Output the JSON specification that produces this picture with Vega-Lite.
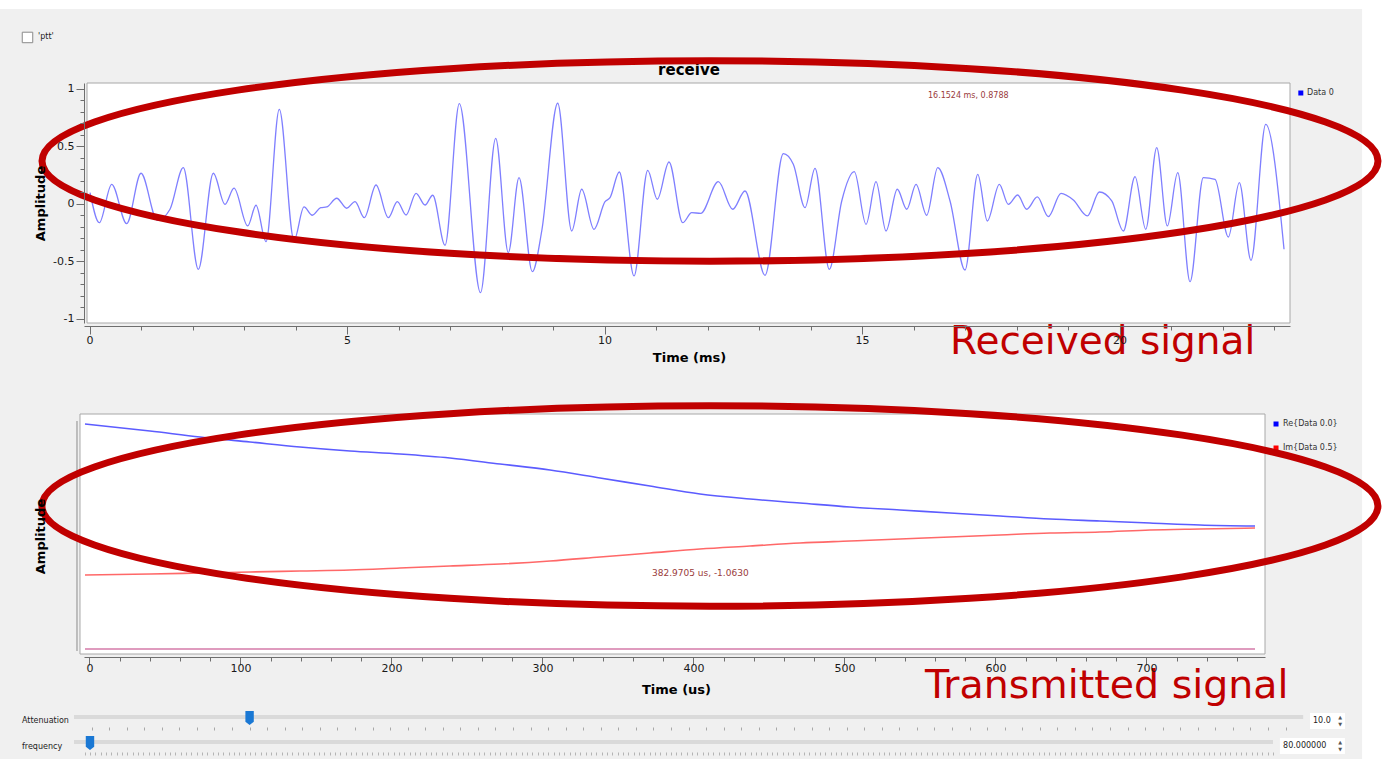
{
 "$schema": "https://vega.github.io/schema/vega-lite/v6.json",
 "background": "white",
 "padding": {"left": 0, "top": 8, "right": 0, "bottom": 0},
 "autosize": {"type": "pad"},
 "config": {
  "view": {"stroke": null},
  "axis": {"grid": false, "labelFont": "DejaVu Sans", "labelFontSize": 11, "labelColor": "#1a1a1a", "titleFont": "DejaVu Sans", "titleFontWeight": "bold", "titleFontSize": 13, "titleColor": "#000000", "domainColor": "#6e6e6e", "tickColor": "#6e6e6e", "labelOverlap": false, "labelFlush": false},
  "text": {"font": "DejaVu Sans"}
 },
 "datasets": {
  "rx": [
   {"t":0.01,"a":0.098},{"t":0.190,"a":-0.163},{"t":0.431,"a":0.171},{"t":0.722,"a":-0.171},{"t":1.000,"a":0.267},{"t":1.317,"a":-0.142},{"t":1.563,"a":-0.046},{"t":1.821,"a":0.316},{"t":2.113,"a":-0.568},{"t":2.404,"a":0.267},{"t":2.631,"a":-0.003},{"t":2.806,"a":0.137},{"t":3.072,"a":-0.191},{"t":3.233,"a":-0.011},{"t":3.427,"a":-0.328},{"t":3.685,"a":0.823},{"t":3.971,"a":-0.316},{"t":4.165,"a":-0.026},{"t":4.326,"a":-0.098},{"t":4.489,"a":-0.032},{"t":4.606,"a":-0.026},{"t":4.800,"a":0.050},{"t":4.994,"a":-0.037},{"t":5.155,"a":0.020},{"t":5.336,"a":-0.119},{"t":5.563,"a":0.165},{"t":5.802,"a":-0.119},{"t":5.977,"a":0.020},{"t":6.146,"a":-0.096},{"t":6.340,"a":0.093},{"t":6.515,"a":-0.009},{"t":6.664,"a":0.076},{"t":6.903,"a":-0.359},{"t":7.181,"a":0.872},{"t":7.592,"a":-0.771},{"t":7.887,"a":0.571},{"t":8.132,"a":-0.423},{"t":8.340,"a":0.229},{"t":8.598,"a":-0.589},{"t":8.781,"a":-0.235},{"t":9.091,"a":0.876},{"t":9.363,"a":-0.235},{"t":9.557,"a":0.128},{"t":9.796,"a":-0.220},{"t":10.010,"a":0.020},{"t":10.107,"a":0.055},{"t":10.287,"a":0.278},{"t":10.573,"a":-0.626},{"t":10.839,"a":0.293},{"t":11.025,"a":0.041},{"t":11.252,"a":0.365},{"t":11.518,"a":-0.163},{"t":11.693,"a":-0.076},{"t":11.868,"a":-0.081},{"t":12.210,"a":0.194},{"t":12.489,"a":-0.046},{"t":12.728,"a":0.113},{"t":13.117,"a":-0.620},{"t":13.472,"a":0.437},{"t":13.666,"a":0.345},{"t":13.893,"a":-0.032},{"t":14.087,"a":0.310},{"t":14.365,"a":-0.568},{"t":14.606,"a":0.026},{"t":14.850,"a":0.281},{"t":15.078,"a":-0.177},{"t":15.272,"a":0.194},{"t":15.466,"a":-0.235},{"t":15.685,"a":0.128},{"t":15.868,"a":-0.046},{"t":16.049,"a":0.171},{"t":16.256,"a":-0.098},{"t":16.470,"a":0.316},{"t":16.709,"a":0.026},{"t":17.000,"a":-0.574},{"t":17.247,"a":0.258},{"t":17.433,"a":-0.148},{"t":17.666,"a":0.171},{"t":17.841,"a":-0.003},{"t":18.023,"a":0.078},{"t":18.198,"a":-0.046},{"t":18.404,"a":0.061},{"t":18.617,"a":-0.110},{"t":18.864,"a":0.093},{"t":19.103,"a":0.035},{"t":19.375,"a":-0.104},{"t":19.608,"a":0.104},{"t":19.849,"a":0.026},{"t":20.074,"a":-0.235},{"t":20.301,"a":0.237},{"t":20.509,"a":-0.220},{"t":20.722,"a":0.490},{"t":20.928,"a":-0.191},{"t":21.130,"a":0.272},{"t":21.369,"a":-0.676},{"t":21.627,"a":0.229},{"t":21.854,"a":0.215},{"t":22.113,"a":-0.287},{"t":22.326,"a":0.185},{"t":22.553,"a":-0.490},{"t":22.839,"a":0.693},{"t":23.194,"a":-0.394}
  ],
  "tx": [
   {"s":"Z","t":-2.98,"v":-1.95},{"s":"Z","t":771.9,"v":-1.95},
   {"s":"Im","t":-2.98,"v":-1.21},{"s":"Im","t":40.07,"v":-1.20},{"s":"Im","t":73.18,"v":-1.19},{"s":"Im","t":106.3,"v":-1.18},{"s":"Im","t":139.4,"v":-1.17},{"s":"Im","t":172.5,"v":-1.16},{"s":"Im","t":205.6,"v":-1.14},{"s":"Im","t":238.7,"v":-1.12},{"s":"Im","t":271.9,"v":-1.10},{"s":"Im","t":305.0,"v":-1.07},{"s":"Im","t":338.1,"v":-1.03},{"s":"Im","t":371.2,"v":-0.99},{"s":"Im","t":404.3,"v":-0.95},{"s":"Im","t":437.4,"v":-0.92},{"s":"Im","t":470.5,"v":-0.89},{"s":"Im","t":503.6,"v":-0.87},{"s":"Im","t":536.8,"v":-0.85},{"s":"Im","t":569.9,"v":-0.83},{"s":"Im","t":603.0,"v":-0.81},{"s":"Im","t":636.1,"v":-0.79},{"s":"Im","t":669.2,"v":-0.78},{"s":"Im","t":702.3,"v":-0.76},{"s":"Im","t":735.4,"v":-0.75},{"s":"Im","t":771.9,"v":-0.74},
   {"s":"Re","t":-2.98,"v":0.30},{"s":"Re","t":40.07,"v":0.23},{"s":"Re","t":73.18,"v":0.17},{"s":"Re","t":106.3,"v":0.12},{"s":"Re","t":139.4,"v":0.07},{"s":"Re","t":172.5,"v":0.03},{"s":"Re","t":205.6,"v":0.00},{"s":"Re","t":238.7,"v":-0.04},{"s":"Re","t":271.9,"v":-0.10},{"s":"Re","t":305.0,"v":-0.16},{"s":"Re","t":338.1,"v":-0.24},{"s":"Re","t":371.2,"v":-0.32},{"s":"Re","t":404.3,"v":-0.40},{"s":"Re","t":437.4,"v":-0.45},{"s":"Re","t":470.5,"v":-0.49},{"s":"Re","t":503.6,"v":-0.53},{"s":"Re","t":536.8,"v":-0.56},{"s":"Re","t":569.9,"v":-0.59},{"s":"Re","t":603.0,"v":-0.62},{"s":"Re","t":636.1,"v":-0.65},{"s":"Re","t":669.2,"v":-0.67},{"s":"Re","t":702.3,"v":-0.69},{"s":"Re","t":735.4,"v":-0.71},{"s":"Re","t":771.9,"v":-0.72}
  ],
  "sl1": [{"name":"Attenuation","lo":0,"hi":70,"v":10,"txt":"10.0"}],
  "sl2": [{"name":"frequency","lo":77,"hi":302,"v":80,"txt":"80.000000"}]
 },
 "spacing": 11,
 "bounds": "flush",
 "vconcat": [
    {
     "width": 1206, "height": 240,
     "layer": [
      {"data": {"values": [{}]}, "mark": {"type": "rect", "color": "#f0f0f0"},
       "encoding": {"x": {"datum": -1.738, "type": "quantitative", "scale": {"domain": [-0.107, 23.31], "nice": false, "zero": false}}, "x2": {"datum": 24.71}, "y": {"datum": 1.696, "type": "quantitative", "scale": {"domain": [-1.035, 1.052], "nice": false, "zero": false}}, "y2": {"datum": -4.835}}},
      {"data": {"values": [{}]}, "mark": {"type": "point", "shape": "square", "size": 110, "filled": true, "fill": "white", "stroke": "#8a8a8a", "strokeWidth": 1, "opacity": 1},
       "encoding": {"x": {"datum": -1.204, "type": "quantitative", "scale": {"domain": [-0.107, 23.31], "nice": false, "zero": false}}, "y": {"datum": 1.448, "type": "quantitative", "scale": {"domain": [-1.035, 1.052], "nice": false, "zero": false}}}},
      {"data": {"values": [{}]}, "mark": {"type": "text", "text": "'ptt'", "fontSize": 8, "align": "left", "baseline": "middle", "color": "#222222"},
       "encoding": {"x": {"datum": -1.0, "type": "quantitative", "scale": {"domain": [-0.107, 23.31], "nice": false, "zero": false}}, "y": {"datum": 1.448, "type": "quantitative", "scale": {"domain": [-1.035, 1.052], "nice": false, "zero": false}}}},
      {"data": {"values": [{}]}, "mark": {"type": "text", "text": "receive", "fontSize": 15, "fontWeight": "bold", "align": "center", "baseline": "middle", "color": "#000000"},
       "encoding": {"x": {"datum": 11.64, "type": "quantitative", "scale": {"domain": [-0.107, 23.31], "nice": false, "zero": false}}, "y": {"datum": 1.165, "type": "quantitative", "scale": {"domain": [-1.035, 1.052], "nice": false, "zero": false}}}},
      {"data": {"values": [{}]}, "mark": {"type": "rect", "fill": "white", "stroke": "#a8a8a8", "strokeWidth": 1},
       "encoding": {"x": {"datum": -0.0485, "type": "quantitative", "scale": {"domain": [-0.107, 23.31], "nice": false, "zero": false}}, "x2": {"datum": 23.31}, "y": {"datum": 1.052, "type": "quantitative", "scale": {"domain": [-1.035, 1.052], "nice": false, "zero": false}}, "y2": {"datum": -1.035}}},
      {"data": {"name": "rx"}, "mark": {"type": "line", "color": "#7f7fff", "strokeWidth": 1.3, "interpolate": "monotone"},
       "encoding": {
        "x": {"field": "t", "type": "quantitative", "scale": {"domain": [-0.107, 23.31], "nice": false, "zero": false},
              "axis": {"zindex": 1, "orient": "bottom", "offset": 3, "tickCount": 100, "labelOverlap": false, "values": [0,1,2,3,4,5,6,7,8,9,10,11,12,13,14,15,16,17,18,19,20,21,22,23], "labelExpr": "datum.value % 5 === 0 ? '' + datum.value : ''", "tickSize": {"condition": {"test": "datum.value % 5 === 0", "value": 8}, "value": 4}, "labelPadding": 0, "title": "Time (ms)", "titleX": 605, "titleY": 31, "titleAlign": "center", "titleBaseline": "middle"}},
        "y": {"field": "a", "type": "quantitative", "scale": {"domain": [-1.035, 1.052], "nice": false, "zero": false},
              "axis": {"zindex": 1, "orient": "left", "offset": 0, "tickCount": 100, "labelOverlap": false, "values": [-1,-0.9,-0.8,-0.7,-0.6,-0.5,-0.4,-0.3,-0.2,-0.1,0,0.1,0.2,0.3,0.4,0.5,0.6,0.7,0.8,0.9,1], "labelExpr": "abs(datum.value*2-round(datum.value*2))<0.001 ? '' + datum.value : ''", "tickSize": {"condition": {"test": "abs(datum.value*2-round(datum.value*2))<0.001", "value": 8}, "value": 4}, "labelPadding": 2, "title": "Amplitude", "titleX": -44, "titleY": 120, "titleAngle": -90, "titleAlign": "center", "titleBaseline": "middle"}}
       }},
      {"data": {"values": [{}]}, "mark": {"type": "point", "shape": "square", "size": 25, "filled": true, "color": "#0000ff", "opacity": 1},
       "encoding": {"x": {"datum": 23.52, "type": "quantitative", "scale": {"domain": [-0.107, 23.31], "nice": false, "zero": false}}, "y": {"datum": 0.965, "type": "quantitative", "scale": {"domain": [-1.035, 1.052], "nice": false, "zero": false}}}},
      {"data": {"values": [{}]}, "mark": {"type": "text", "text": "Data 0", "fontSize": 8, "align": "left", "baseline": "middle", "color": "#333333"},
       "encoding": {"x": {"datum": 23.64, "type": "quantitative", "scale": {"domain": [-0.107, 23.31], "nice": false, "zero": false}}, "y": {"datum": 0.965, "type": "quantitative", "scale": {"domain": [-1.035, 1.052], "nice": false, "zero": false}}}},
      {"data": {"values": [{}]}, "mark": {"type": "text", "text": "16.1524 ms, 0.8788", "fontSize": 8, "align": "left", "baseline": "middle", "color": "#9a3b3b"},
       "encoding": {"x": {"datum": 16.28, "type": "quantitative", "scale": {"domain": [-0.107, 23.31], "nice": false, "zero": false}}, "y": {"datum": 0.939, "type": "quantitative", "scale": {"domain": [-1.035, 1.052], "nice": false, "zero": false}}}},
      {"data": {"values": [{}]}, "mark": {"type": "point", "shape": "M-1,0C-1,-0.0828,-0.5523,-0.15,0,-0.15C0.5523,-0.15,1,-0.0828,1,0C1,0.0828,0.5523,0.15,0,0.15C-0.5523,0.15,-1,0.0828,-1,0Z", "size": 1784896, "filled": false, "color": "#c00000", "strokeWidth": 7, "opacity": 1},
       "encoding": {"x": {"datum": 12.048, "type": "quantitative", "scale": {"domain": [-0.107, 23.31], "nice": false, "zero": false}}, "y": {"datum": 0.374, "type": "quantitative", "scale": {"domain": [-1.035, 1.052], "nice": false, "zero": false}}}},
      {"data": {"values": [{}]}, "mark": {"type": "text", "text": "Received signal", "font": "DejaVu Sans", "fontSize": 39, "align": "left", "baseline": "alphabetic", "color": "#c00000"},
       "encoding": {"x": {"datum": 16.709, "type": "quantitative", "scale": {"domain": [-0.107, 23.31], "nice": false, "zero": false}}, "y": {"datum": -1.304, "type": "quantitative", "scale": {"domain": [-1.035, 1.052], "nice": false, "zero": false}}}}
     ]
    },
    {
     "width": 1181, "height": 320,
     "layer": [
      {"data": {"values": [{}]}, "mark": {"type": "rect", "fill": "white", "stroke": "#a8a8a8", "strokeWidth": 1},
       "encoding": {"x": {"datum": -6.29, "type": "quantitative", "scale": {"domain": [-3.64, 778.5], "nice": false, "zero": false}}, "x2": {"datum": 778.5}, "y": {"datum": 0.4, "type": "quantitative", "scale": {"domain": [-2.0, 1.2], "nice": false, "zero": false}}, "y2": {"datum": -2.0}}},
      {"data": {"values": [{}]}, "mark": {"type": "rule", "color": "#8a8a8a", "strokeWidth": 1},
       "encoding": {"x": {"datum": -8.28, "type": "quantitative", "scale": {"domain": [-3.64, 778.5], "nice": false, "zero": false}}, "y": {"datum": 0.33, "type": "quantitative", "scale": {"domain": [-2.0, 1.2], "nice": false, "zero": false}}, "y2": {"datum": -1.97}}},
      {"data": {"name": "tx"}, "mark": {"type": "line", "strokeWidth": 1.6, "interpolate": "monotone"},
       "encoding": {
        "x": {"field": "t", "type": "quantitative", "scale": {"domain": [-3.64, 778.5], "nice": false, "zero": false},
              "axis": {"zindex": 1, "orient": "bottom", "offset": 3, "tickCount": 100, "labelOverlap": false, "values": [0,20,40,60,80,100,120,140,160,180,200,220,240,260,280,300,320,340,360,380,400,420,440,460,480,500,520,540,560,580,600,620,640,660,680,700,720,740,760], "labelExpr": "datum.value % 100 === 0 ? '' + datum.value : ''", "tickSize": {"condition": {"test": "datum.value % 100 === 0", "value": 8}, "value": 4}, "labelPadding": -3, "title": "Time (us)", "titleX": 592, "titleY": 32, "titleAlign": "center", "titleBaseline": "middle"}},
        "y": {"field": "v", "type": "quantitative", "scale": {"domain": [-2.0, 1.2], "nice": false, "zero": false},
              "axis": {"zindex": 1, "orient": "left", "offset": 6, "labels": false, "ticks": false, "domain": false, "title": "Amplitude", "titleX": -38, "titleY": 202, "titleAngle": -90, "titleAlign": "center", "titleBaseline": "middle"}},
        "color": {"field": "s", "type": "nominal", "scale": {"domain": ["Re", "Im", "Z"], "range": ["#5c5cff", "#ff6868", "#d47aa8"]}, "legend": null}
       }},
      {"data": {"values": [{}]}, "mark": {"type": "point", "shape": "square", "size": 25, "filled": true, "color": "#0000ff", "opacity": 1},
       "encoding": {"x": {"datum": 785.8, "type": "quantitative", "scale": {"domain": [-3.64, 778.5], "nice": false, "zero": false}}, "y": {"datum": 0.30, "type": "quantitative", "scale": {"domain": [-2.0, 1.2], "nice": false, "zero": false}}}},
      {"data": {"values": [{}]}, "mark": {"type": "text", "text": "Re{Data 0.0}", "fontSize": 8, "align": "left", "baseline": "middle", "color": "#333333"},
       "encoding": {"x": {"datum": 790.4, "type": "quantitative", "scale": {"domain": [-3.64, 778.5], "nice": false, "zero": false}}, "y": {"datum": 0.30, "type": "quantitative", "scale": {"domain": [-2.0, 1.2], "nice": false, "zero": false}}}},
      {"data": {"values": [{}]}, "mark": {"type": "point", "shape": "square", "size": 25, "filled": true, "color": "#ff0000", "opacity": 1},
       "encoding": {"x": {"datum": 785.8, "type": "quantitative", "scale": {"domain": [-3.64, 778.5], "nice": false, "zero": false}}, "y": {"datum": 0.06, "type": "quantitative", "scale": {"domain": [-2.0, 1.2], "nice": false, "zero": false}}}},
      {"data": {"values": [{}]}, "mark": {"type": "text", "text": "Im{Data 0.5}", "fontSize": 8, "align": "left", "baseline": "middle", "color": "#333333"},
       "encoding": {"x": {"datum": 790.4, "type": "quantitative", "scale": {"domain": [-3.64, 778.5], "nice": false, "zero": false}}, "y": {"datum": 0.06, "type": "quantitative", "scale": {"domain": [-2.0, 1.2], "nice": false, "zero": false}}}},
      {"data": {"values": [{}]}, "mark": {"type": "text", "text": "382.9705 us, -1.0630", "fontSize": 9, "align": "left", "baseline": "middle", "color": "#9a3b3b"},
       "encoding": {"x": {"datum": 372.5, "type": "quantitative", "scale": {"domain": [-3.64, 778.5], "nice": false, "zero": false}}, "y": {"datum": -1.19, "type": "quantitative", "scale": {"domain": [-2.0, 1.2], "nice": false, "zero": false}}}},
      {"data": {"values": [{}]}, "mark": {"type": "point", "shape": "M-1,0C-1,-0.0828,-0.5523,-0.15,0,-0.15C0.5523,-0.15,1,-0.0828,1,0C1,0.0828,0.5523,0.15,0,0.15C-0.5523,0.15,-1,0.0828,-1,0Z", "size": 1784896, "filled": false, "color": "#c00000", "strokeWidth": 7, "opacity": 1},
       "encoding": {"x": {"datum": 410.9, "type": "quantitative", "scale": {"domain": [-3.64, 778.5], "nice": false, "zero": false}}, "y": {"datum": -0.52, "type": "quantitative", "scale": {"domain": [-2.0, 1.2], "nice": false, "zero": false}}}},
      {"data": {"values": [{}]}, "mark": {"type": "text", "text": "Transmitted signal", "font": "DejaVu Sans", "fontSize": 39.5, "align": "left", "baseline": "alphabetic", "color": "#c00000"},
       "encoding": {"x": {"datum": 553.3, "type": "quantitative", "scale": {"domain": [-3.64, 778.5], "nice": false, "zero": false}}, "y": {"datum": -2.44, "type": "quantitative", "scale": {"domain": [-2.0, 1.2], "nice": false, "zero": false}}}}
     ]
    },
    {
     "width": 1219, "height": 59,
     "layer": [
      {"data": {"name": "sl1"}, "mark": {"type": "rule", "color": "#dadada", "strokeWidth": 4},
       "encoding": {"x": {"field": "lo", "type": "quantitative", "scale": {"domain": [0.5695, 69.99], "nice": false, "zero": false},
                          "axis": {"zindex": 1, "orient": "bottom", "offset": 3, "tickCount": 100, "values": [1,2,3,4,5,6,7,8,9,10,11,12,13,14,15,16,17,18,19,20,21,22,23,24,25,26,27,28,29,30,31,32,33,34,35,36,37,38,39,40,41,42,43,44,45,46,47,48,49,50,51,52,53,54,55,56,57,58,59,60,61,62,63,64,65,66,67,68,69], "labels": false, "domain": false, "tickSize": 3, "tickColor": "#a8a8a8", "title": null}},
                    "x2": {"field": "hi"},
                    "y": {"datum": 0, "type": "quantitative", "scale": {"domain": [-1, 7.4286], "nice": false, "zero": false}, "axis": null}}},
      {"data": {"name": "sl1"}, "mark": {"type": "text", "fontSize": 8, "align": "left", "baseline": "middle", "color": "#222222"},
       "encoding": {"x": {"datum": -2.961, "type": "quantitative", "scale": {"domain": [0.5695, 69.99], "nice": false, "zero": false}}, "y": {"datum": -0.571, "type": "quantitative", "scale": {"domain": [-1, 7.4286], "nice": false, "zero": false}, "axis": null}, "text": {"field": "name"}}},
      {"data": {"values": [{}]}, "mark": {"type": "rect", "fill": "white"},
       "encoding": {"x": {"datum": 70.39, "type": "quantitative", "scale": {"domain": [0.5695, 69.99], "nice": false, "zero": false}}, "x2": {"datum": 72.38}, "y": {"datum": 0.571, "type": "quantitative", "scale": {"domain": [-1, 7.4286], "nice": false, "zero": false}, "axis": null}, "y2": {"datum": -1.714}}},
      {"data": {"name": "sl1"}, "mark": {"type": "text", "fontSize": 8, "align": "left", "baseline": "middle", "color": "#222222"},
       "encoding": {"x": {"datum": 70.56, "type": "quantitative", "scale": {"domain": [0.5695, 69.99], "nice": false, "zero": false}}, "y": {"datum": -0.571, "type": "quantitative", "scale": {"domain": [-1, 7.4286], "nice": false, "zero": false}, "axis": null}, "text": {"field": "txt"}}},
      {"data": {"values": [{}]}, "mark": {"type": "text", "text": "▲", "fontSize": 5, "align": "center", "baseline": "middle", "color": "#555555"},
       "encoding": {"x": {"datum": 72.1, "type": "quantitative", "scale": {"domain": [0.5695, 69.99], "nice": false, "zero": false}}, "y": {"datum": 0.0, "type": "quantitative", "scale": {"domain": [-1, 7.4286], "nice": false, "zero": false}, "axis": null}}},
      {"data": {"values": [{}]}, "mark": {"type": "text", "text": "▼", "fontSize": 5, "align": "center", "baseline": "middle", "color": "#555555"},
       "encoding": {"x": {"datum": 72.1, "type": "quantitative", "scale": {"domain": [0.5695, 69.99], "nice": false, "zero": false}}, "y": {"datum": -1.0, "type": "quantitative", "scale": {"domain": [-1, 7.4286], "nice": false, "zero": false}, "axis": null}}},
      {"data": {"name": "sl1"}, "mark": {"type": "point", "shape": "M-0.6,-1L0.6,-1L0.6,0.55L0,1L-0.6,0.55Z", "size": 196, "filled": true, "color": "#1a78d4", "opacity": 1},
       "encoding": {"x": {"field": "v", "type": "quantitative", "scale": {"domain": [0.5695, 69.99], "nice": false, "zero": false}}, "y": {"datum": -0.14, "type": "quantitative", "scale": {"domain": [-1, 7.4286], "nice": false, "zero": false}, "axis": null}}}
     ]
    },
    {
     "width": 1189, "height": 14,
     "layer": [
      {"data": {"name": "sl2"}, "mark": {"type": "rule", "color": "#dadada", "strokeWidth": 4},
       "encoding": {"x": {"field": "lo", "type": "quantitative", "scale": {"domain": [78.877, 302], "nice": false, "zero": false},
                          "axis": {"zindex": 1, "orient": "bottom", "offset": 3, "tickCount": 230, "labels": false, "domain": false, "tickSize": 3, "tickColor": "#b4b4b4", "title": null}},
                    "x2": {"field": "hi"},
                    "y": {"datum": 0, "type": "quantitative", "scale": {"domain": [-1, 1], "nice": false, "zero": false}, "axis": null}}},
      {"data": {"name": "sl2"}, "mark": {"type": "text", "fontSize": 8, "align": "left", "baseline": "middle", "color": "#222222"},
       "encoding": {"x": {"datum": 67.24, "type": "quantitative", "scale": {"domain": [78.877, 302], "nice": false, "zero": false}}, "y": {"datum": -0.714, "type": "quantitative", "scale": {"domain": [-1, 1], "nice": false, "zero": false}, "axis": null}, "text": {"field": "name"}}},
      {"data": {"values": [{}]}, "mark": {"type": "rect", "fill": "white"},
       "encoding": {"x": {"datum": 303.3, "type": "quantitative", "scale": {"domain": [78.877, 302], "nice": false, "zero": false}}, "x2": {"datum": 315.5}, "y": {"datum": 0.571, "type": "quantitative", "scale": {"domain": [-1, 1], "nice": false, "zero": false}, "axis": null}, "y2": {"datum": -1.714}}},
      {"data": {"name": "sl2"}, "mark": {"type": "text", "fontSize": 8, "align": "left", "baseline": "middle", "color": "#222222"},
       "encoding": {"x": {"datum": 303.9, "type": "quantitative", "scale": {"domain": [78.877, 302], "nice": false, "zero": false}}, "y": {"datum": -0.571, "type": "quantitative", "scale": {"domain": [-1, 1], "nice": false, "zero": false}, "axis": null}, "text": {"field": "txt"}}},
      {"data": {"values": [{}]}, "mark": {"type": "text", "text": "▲", "fontSize": 5, "align": "center", "baseline": "middle", "color": "#555555"},
       "encoding": {"x": {"datum": 314.6, "type": "quantitative", "scale": {"domain": [78.877, 302], "nice": false, "zero": false}}, "y": {"datum": 0.0, "type": "quantitative", "scale": {"domain": [-1, 1], "nice": false, "zero": false}, "axis": null}}},
      {"data": {"values": [{}]}, "mark": {"type": "text", "text": "▼", "fontSize": 5, "align": "center", "baseline": "middle", "color": "#555555"},
       "encoding": {"x": {"datum": 314.6, "type": "quantitative", "scale": {"domain": [78.877, 302], "nice": false, "zero": false}}, "y": {"datum": -1.0, "type": "quantitative", "scale": {"domain": [-1, 1], "nice": false, "zero": false}, "axis": null}}},
      {"data": {"name": "sl2"}, "mark": {"type": "point", "shape": "M-0.6,-1L0.6,-1L0.6,0.55L0,1L-0.6,0.55Z", "size": 196, "filled": true, "color": "#1a78d4", "opacity": 1},
       "encoding": {"x": {"field": "v", "type": "quantitative", "scale": {"domain": [78.877, 302], "nice": false, "zero": false}}, "y": {"datum": -0.14, "type": "quantitative", "scale": {"domain": [-1, 1], "nice": false, "zero": false}, "axis": null}}}
     ]
    }
 ]
}
